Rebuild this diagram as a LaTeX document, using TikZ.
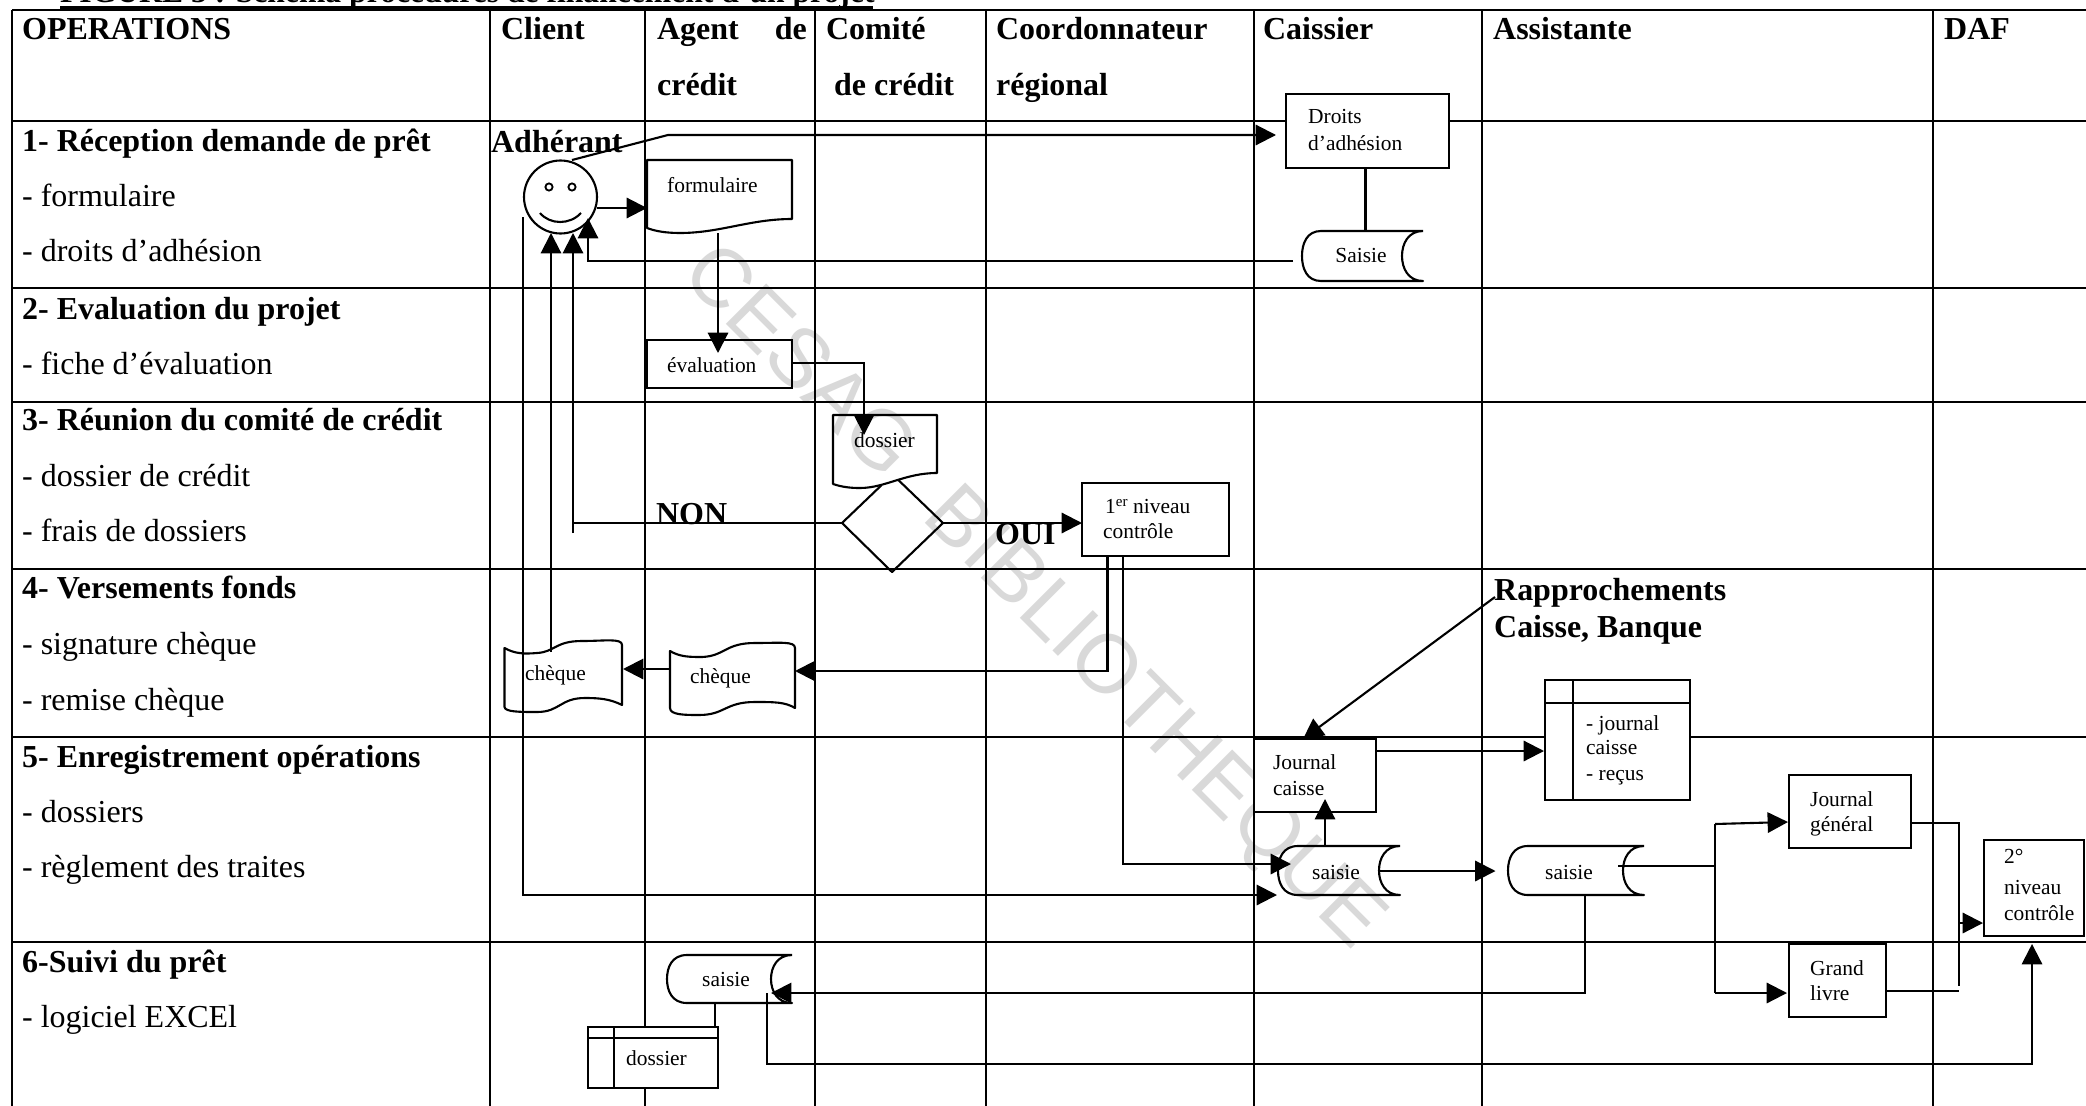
\documentclass[tikz,border=0pt]{standalone}
\usepackage{fontspec}
\setmainfont{Liberation Serif}
\newfontfamily\wmfont{Liberation Sans}
\usetikzlibrary{arrows.meta,fit}
\tikzset{
  gridline/.style={line width=2.6pt,black},
  conn/.style={line width=3pt,black},
  arr/.style={conn,-{Triangle[length=29pt,width=29pt]}},
  shapeline/.style={line width=3pt,black,line join=round},
  boxn/.style={draw=black,line width=3pt,inner sep=0pt,outer sep=0pt,rectangle},
  coverbox/.style={boxn,fill=white},
  hb/.style={anchor=base west,inner sep=0pt,yshift=-2.5pt,font=\fontsize{45.5}{50}\selectfont\bfseries},
  rt/.style={anchor=base west,inner sep=0pt,yshift=-2.5pt,font=\fontsize{45.5}{50}\selectfont},
  st/.style={anchor=base west,inner sep=0pt,font=\fontsize{30.5}{36}\selectfont},
  sc/.style={anchor=center,inner sep=0pt,font=\fontsize{30.5}{36}\selectfont},
}
\newcommand{\storeddata}[7]{% name, xleft, xcurve, xinner, xright, ytop, ybottom
  \path[shapeline,draw] (#5,#6) -- (#3,#6)
    .. controls ({#3-0.75*(#3-#2)},#6) and (#2,{#6+0.25*(#7-#6)}) .. (#2,{(#6+#7)/2})
    .. controls (#2,{#7-0.25*(#7-#6)}) and ({#3-0.75*(#3-#2)},#7) .. (#3,#7)
    -- (#5,#7)
    .. controls ({#4+0.3*(#5-#4)},#7) and (#4,{#7-0.25*(#7-#6)}) .. (#4,{(#6+#7)/2})
    .. controls (#4,{#6+0.25*(#7-#6)}) and ({#4+0.3*(#5-#4)},#6) .. (#5,#6);
}
\begin{document}
\begin{tikzpicture}[x=0.05cm,y=-0.05cm]
\useasboundingbox (0,0) rectangle (2086,1106);
\fill[white] (0,0) rectangle (2086,1106);
\clip (0,0) rectangle (2086,1106);

% watermark
\node[anchor=center,inner sep=0pt,rotate=-45,text=black!15,font=\wmfont\fontsize{118}{120}\selectfont] (wm) at (1031.5,599.5) {CESAG\hskip 0.62em BIBLIOTHEQUE};

% title (cut by the page edge)
\node[anchor=base west,inner sep=0pt,font=\fontsize{45}{48}\selectfont\bfseries] (title) at (60,2.5) {FIGURE 3 : Schéma procédures de financement d’un projet};
\coordinate (ulA) at (60,7.5);
\coordinate (ulB) at (873,7.5);
\draw[line width=4pt] (ulA) -- (ulB);

% grid
\foreach \xx in {12,490,645,815,986,1254,1482,1933}
  \draw[gridline] (\xx,10) -- (\xx,1106);
\foreach \yy in {10,121,288,402,569,737,942}
  \draw[gridline] (12,\yy) -- (2086,\yy);

% header
\node[hb] (hops) at (22,38) {OPERATIONS};
\node[hb] (hcli) at (501,38) {Client};
\node[hb] (hag1) at (657,38) {Agent};
\node[hb,anchor=base east] (hag2) at (807,38) {de};
\node[hb] (hag3) at (657,94) {crédit};
\node[hb] (hcom1) at (826,38) {Comité};
\node[hb] (hcom2) at (834,94) {de crédit};
\node[hb] (hcoo1) at (996,38) {Coordonnateur};
\node[hb] (hcoo2) at (996,94) {régional};
\node[hb] (hcai) at (1263,38) {Caissier};
\node[hb] (hass) at (1493,38) {Assistante};
\node[hb] (hdaf) at (1944,38) {DAF};

% operations column
\node[hb] (o1) at (22,150) {1- Réception demande de prêt};
\node[rt] (o1a) at (22,205) {- formulaire};
\node[rt] (o1b) at (22,260) {- droits d’adhésion};
\node[hb] (o2) at (22,318) {2- Evaluation du projet};
\node[rt] (o2a) at (22,373) {- fiche d’évaluation};
\node[hb] (o3) at (22,429) {3- Réunion du comité de crédit};
\node[rt] (o3a) at (22,485) {- dossier de crédit};
\node[rt] (o3b) at (22,540) {- frais de dossiers};
\node[hb] (o4) at (22,597) {4- Versements fonds};
\node[rt] (o4a) at (22,653) {- signature chèque};
\node[rt] (o4b) at (22,709) {- remise chèque};
\node[hb] (o5) at (22,766) {5- Enregistrement opérations};
\node[rt] (o5a) at (22,821) {- dossiers};
\node[rt] (o5b) at (22,876) {- règlement des traites};
\node[hb] (o6) at (22,971) {6-Suivi du prêt};
\node[rt] (o6a) at (22,1026) {- logiciel EXCEl};

% rectangles
\node[coverbox,fit={(1286,94)(1449,168)}] (droits) {};
\node[boxn,fit={(647,340)(792,388)}] (eval) {};
\node[boxn,fit={(1082,483)(1229,556)}] (niv1) {};
\node[coverbox,fit={(1254,739)(1376,812)}] (jcaisse) {};
\node[boxn,fit={(1789,775)(1911,848)}] (jgen) {};
\node[coverbox,fit={(1789,944)(1886,1017)}] (grand) {};
\node[coverbox,fit={(1984,840)(2084,936)}] (niv2) {};

% tables
\node[coverbox,fit={(1545,680)(1690,800)}] (tjournal) {};
\draw[shapeline] (1545,703) -- (1690,703) (1573,680) -- (1573,800);
\node[coverbox,fit={(588,1027)(718,1088)}] (tdoss) {};
\draw[shapeline] (588,1038) -- (718,1038) (614,1027) -- (614,1088);

% documents
\draw[shapeline] (647,160) -- (792,160) -- (792,219)
  .. controls (750,219) and (720,233) .. (680,233) .. controls (665,233) and (655,231) .. (647,228) -- cycle;
\draw[shapeline] (833,415) -- (937,415) -- (937,473)
  .. controls (905,473) and (885,488) .. (860,488) .. controls (850,488) and (842,487) .. (833,484) -- cycle;

% punched tapes
\draw[shapeline] (504.5,648) .. controls (515,654) and (525,654) .. (537,653)
  .. controls (555,652) and (555,641) .. (582,641) .. controls (605,641) and (622,638) .. (622,645)
  -- (622,705) .. controls (610,699) and (600,698) .. (585,698) .. controls (560,698) and (560,712) .. (537,712)
  .. controls (520,712) and (505,712) .. (504.5,707) -- cycle;
\draw[shapeline] (670,651) .. controls (680,657) and (690,657) .. (702,657)
  .. controls (725,656) and (725,643) .. (755,643) .. controls (780,643) and (795,641) .. (795,648)
  -- (795,708) .. controls (785,702) and (775,702) .. (755,702) .. controls (725,702) and (725,715) .. (699,715)
  .. controls (685,715) and (670,715) .. (670,708) -- cycle;

% stored data
\storeddata{saisieA}{1302}{1321}{1402}{1423}{231}{281}
\storeddata{saisieB}{1278}{1298}{1379}{1400}{846}{895}
\storeddata{saisieC}{1508}{1528}{1623}{1644}{846}{895}
\storeddata{saisieD}{667}{687}{771}{792}{955}{1003}

% decision
\draw[shapeline] (881.7,485) -- (842,523) -- (892,572) -- (943,523) -- (898.3,480);

% smiley
\node[circle,draw=black,line width=3pt,inner sep=0pt,outer sep=0pt,minimum size=3.65cm] (smile) at (560.5,197) {};
\node[circle,draw=black,line width=2.6pt,inner sep=0pt,minimum size=0.36cm] (eyeL) at (549,187) {};
\node[circle,draw=black,line width=2.6pt,inner sep=0pt,minimum size=0.36cm] (eyeR) at (572,187) {};
\draw[shapeline] (540,213) .. controls (550,225) and (570,225) .. (581,213);

% box texts
\node[st] (tdr1) at (1308,124) {Droits};
\node[st] (tdr2) at (1308,150) {d’adhésion};
\node[sc] (tsa) at (1361,256) {Saisie};
\node[st] (tform) at (667,192) {formulaire};
\node[st] (teval) at (667,372) {évaluation};
\node[st] (tdos) at (854,447) {dossier};
\node[st] (tn1) at (1105,513) {1\textsuperscript{er} niveau};
\node[st] (tn2) at (1103,538) {contrôle};
\node[st] (tch1) at (525,680) {chèque};
\node[st] (tch2) at (690,683) {chèque};
\node[st] (tjc1) at (1273,769) {Journal};
\node[st] (tjc2) at (1273,795) {caisse};
\node[st] (tt1) at (1586,730) {- journal};
\node[st] (tt2) at (1586,754) {caisse};
\node[st] (tt3) at (1586,780) {- reçus};
\node[sc] (tsb) at (1336,872) {saisie};
\node[sc] (tsc) at (1569,872) {saisie};
\node[st] (tjg1) at (1810,806) {Journal};
\node[st] (tjg2) at (1810,831) {général};
\node[st] (tgl1) at (1810,975) {Grand};
\node[st] (tgl2) at (1810,1000) {livre};
\node[st] (tn21) at (2004,863) {2°};
\node[st] (tn22) at (2004,894) {niveau};
\node[st] (tn23) at (2004,920) {contrôle};
\node[sc] (tsd) at (726,979) {saisie};
\node[st] (ttd) at (626,1065) {dossier};

% floating bold labels
\node[hb] (adh) at (491,151) {Adhérant};
\node[hb] (non) at (656,523) {NON};
\node[hb] (oui) at (995,543) {OUI};
\node[hb] (rap1) at (1494,599) {Rapprochements};
\node[hb] (rap2) at (1494,636) {Caisse, Banque};

% connectors
\coordinate (c1) at (572,160);
\coordinate (c1b) at (668,135);
\coordinate (c1e) at (1276,135);
\draw[arr] (c1) -- (c1b) -- (c1e);
\coordinate (d1) at (1365.5,168);
\coordinate (d1e) at (1365.5,231);
\draw[conn] (d1) -- (d1e);
\coordinate (s1) at (1293,261);
\coordinate (s1b) at (588,261);
\coordinate (s1e) at (588,218);
\draw[arr] (s1) -- (s1b) -- (s1e);
\coordinate (c2) at (597,208);
\coordinate (c2e) at (647,208);
\draw[arr] (c2) -- (c2e);
\coordinate (f1) at (718,233);
\coordinate (f1e) at (718,353);
\draw[arr] (f1) -- (f1e);
\coordinate (e1) at (792,363);
\coordinate (e1b) at (864,363);
\coordinate (e1e) at (864,435);
\draw[arr] (e1) -- (e1b) -- (e1e);
\coordinate (n1) at (842,523);
\coordinate (n1b) at (573,523);
\coordinate (n1c) at (573,533);
\coordinate (n1e) at (573,233);
\draw[conn] (n1) -- (n1b);
\draw[arr] (n1c) -- (n1e);
\coordinate (o1x) at (943,523);
\coordinate (o1e) at (1082,523);
\draw[arr] (o1x) -- (o1e);
\coordinate (a1) at (551,652);
\coordinate (a1e) at (551,233);
\draw[arr] (a1) -- (a1e);
\coordinate (b1) at (523,217);
\coordinate (b1b) at (523,895);
\coordinate (b1e) at (1277,895);
\draw[arr] (b1) -- (b1b) -- (b1e);
\coordinate (k1) at (1107.5,556);
\coordinate (k1b) at (1107.5,671);
\coordinate (k1e) at (795,671);
\draw[arr] (k1) -- (k1b) -- (k1e);
\coordinate (k2) at (670,669);
\coordinate (k2e) at (623,669);
\draw[arr] (k2) -- (k2e);
\coordinate (l1) at (1123,556);
\coordinate (l1b) at (1123,864);
\coordinate (l1e) at (1291,864);
\draw[arr] (l1) -- (l1b) -- (l1e);
\coordinate (r1) at (1495,597);
\coordinate (r1e) at (1303,739);
\draw[arr] (r1) -- (r1e);
\coordinate (j1) at (1376,751);
\coordinate (j1e) at (1544,751);
\draw[arr] (j1) -- (j1e);
\coordinate (sb1) at (1325,846);
\coordinate (sb1e) at (1325,799);
\draw[arr] (sb1) -- (sb1e);
\coordinate (sb2) at (1380,871);
\coordinate (sb2e) at (1495.5,871);
\draw[arr] (sb2) -- (sb2e);
\coordinate (sc1) at (1618,866);
\coordinate (sc1b) at (1715,866);
\draw[conn] (sc1) -- (sc1b);
\coordinate (v1) at (1715,824);
\coordinate (v2) at (1715,993);
\coordinate (v1e) at (1788,822);
\coordinate (v2e) at (1787,993);
\draw[conn] (v1) -- (v2);
\draw[arr] (v1) -- (v1e);
\draw[arr] (v2) -- (v2e);
\coordinate (jg1) at (1911,823);
\coordinate (jg1b) at (1959,823);
\coordinate (jg1c) at (1959,986);
\draw[conn] (jg1) -- (jg1b) -- (jg1c);
\coordinate (gl1) at (1886,991);
\coordinate (gl1b) at (1959,991);
\draw[conn] (gl1) -- (gl1b);
\coordinate (m1) at (1959,923);
\coordinate (m1e) at (1983,923);
\draw[arr] (m1) -- (m1e);
\coordinate (sc2) at (1585,895);
\coordinate (sc2b) at (1585,993);
\coordinate (sc2e) at (771,993);
\draw[arr] (sc2) -- (sc2b) -- (sc2e);
\coordinate (sd1) at (715,1003);
\coordinate (sd1e) at (715,1027);
\draw[conn] (sd1) -- (sd1e);
\coordinate (sd2) at (767,993);
\coordinate (sd2b) at (767,1064);
\coordinate (sd2c) at (2032,1064);
\coordinate (sd2e) at (2032,944);
\draw[arr] (sd2) -- (sd2b) -- (sd2c) -- (sd2e);
\end{tikzpicture}
\end{document}
